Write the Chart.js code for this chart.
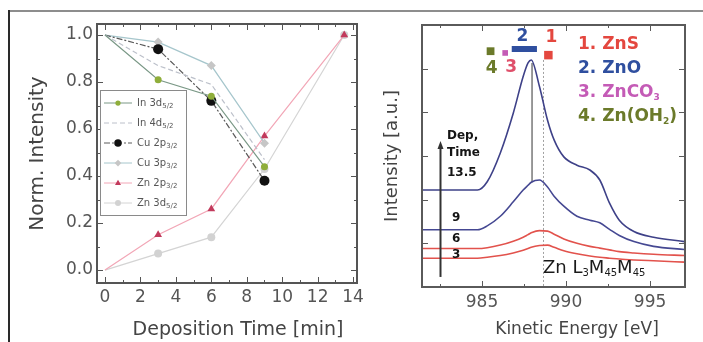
<!DOCTYPE html>
<html>
<head>
<meta charset="utf-8">
<title>Deposition series</title>
<script src="https://cdn.jsdelivr.net/npm/chart.js@4.4.1/dist/chart.umd.min.js"></script>
<style>
  html, body { margin: 0; padding: 0; background: #fff; }
  #page { position: relative; width: 703px; height: 342px; overflow: hidden; }
  .rule-top { position: absolute; left: 9px; top: 10px; width: 694px; height: 2px; background: #8d8d8d; }
  .rule-left { position: absolute; left: 8px; top: 10px; width: 2px; height: 332px; background: #2a2a2a; }
  canvas { position: absolute; top: 0; }
  #timeChart { left: 0; }
  #augerChart { left: 360px; }
</style>
</head>
<body>
<div id="page">
  <div class="rule-top"></div>
  <div class="rule-left"></div>
  <canvas id="timeChart" width="380" height="342"></canvas>
  <canvas id="augerChart" width="343" height="342"></canvas>
</div>
<script>
const FONT = '"DejaVu Sans", "Liberation Sans", sans-serif';
Chart.defaults.font.family = FONT;

// normalised core level intensities vs deposition time [min]
const depTimes = [0, 3, 6, 9, 13.5];
const coreLevels = ['In 3d_{5/2}', 'In 4d_{5/2}', 'Cu 2p_{3/2}', 'Cu 3p_{3/2}', 'Zn 2p_{3/2}', 'Zn 3d_{5/2}'];
const in3d = [1.0, 0.81, 0.74, 0.44];
const in4d = [1.0, 0.87, 0.79, 0.47];
const cu2p = [1.0, 0.94, 0.72, 0.38];
const cu3p = [1.0, 0.97, 0.87, 0.54];
const zn2p = [0.0, 0.15, 0.26, 0.57, 1.0];
const zn3d = [0.0, 0.07, 0.14, 0.43, 1.0];

// Zn LMM spectra, kinetic energy [eV] vs intensity [a.u.]
const kinEnergy = [981.43, 984.73, 985.31, 986.09, 986.86, 987.45, 987.74, 987.93, 988.42, 988.90,
                   989.29, 989.87, 990.65, 991.42, 992.01, 992.59, 993.17, 994.04, 995.21, 997.05];
const spectrumTimes = ['13.5', '9', '6', '3'];
const lmm135 = [2.22, 2.22, 2.41, 3.07, 3.98, 4.82, 5.13, 5.20, 4.59, 3.82,
                3.37, 2.98, 2.79, 2.68, 2.45, 1.92, 1.53, 1.27, 1.14, 1.04];
const lmm9 = [1.31, 1.31, 1.40, 1.62, 1.95, 2.22, 2.33, 2.40, 2.45, 2.29,
              2.08, 1.85, 1.62, 1.53, 1.47, 1.32, 1.18, 1.04, 0.93, 0.86];
const lmm6 = [0.88, 0.88, 0.90, 0.96, 1.05, 1.14, 1.20, 1.24, 1.29, 1.28,
              1.21, 1.10, 1.00, 0.93, 0.89, 0.85, 0.81, 0.78, 0.75, 0.72];
const lmm3 = [0.66, 0.66, 0.68, 0.72, 0.78, 0.84, 0.88, 0.91, 0.95, 0.96,
              0.91, 0.83, 0.76, 0.71, 0.68, 0.66, 0.64, 0.62, 0.60, 0.57];

// reference phases: 1. ZnS  2. ZnO  3. ZnCO3  4. Zn(OH2)
const phaseNames = ['ZnS', 'ZnO', 'ZnCO_{3}', 'Zn(OH_{2})'];
const phaseEnergy = [988.95, 987.52, 986.38, 985.51];
const phaseLevel = [5.31, 5.45, 5.36, 5.40];
const znoBand = [986.77, 988.27];
const znoLine = [987.98, 5.13, 2.40];   // energy, top, bottom
const znsLine = [988.66, 5.20, 0.0];

const pts = (xs, ys) => ys.map((v, i) => ({ x: xs[i], y: v }));

// text with _{...} parts drawn as subscripts
function drawRich(ctx, str, x, y, o) {
  const size = o.size, weight = o.weight || 'normal';
  const sub = Math.round(size * (o.subScale || 0.65));
  const parts = str.split(/(_\{[^}]*\})/).filter(Boolean)
    .map(p => p.startsWith('_{') ? { t: p.slice(2, -1), sub: true } : { t: p, sub: false });
  const fontOf = p => `${weight} ${p.sub ? sub : size}px ${FONT}`;
  let w = 0;
  parts.forEach(p => { ctx.font = fontOf(p); p.w = ctx.measureText(p.t).width; w += p.w; });
  let cx = o.align === 'center' ? x - w / 2 : o.align === 'right' ? x - w : x;
  ctx.fillStyle = o.color;
  ctx.textAlign = 'left';
  ctx.textBaseline = 'middle';
  parts.forEach(p => {
    ctx.font = fontOf(p);
    ctx.fillText(p.t, cx, p.sub ? y + size * 0.3 : y);
    cx += p.w;
  });
}

function drawMarker(ctx, style, x, y, r, fill) {
  if (!style) return;
  ctx.beginPath();
  if (style === 'circle') {
    ctx.arc(x, y, r, 0, Math.PI * 2);
  } else if (style === 'triangle') {
    ctx.moveTo(x, y - r); ctx.lineTo(x + r * 0.9, y + r * 0.6); ctx.lineTo(x - r * 0.9, y + r * 0.6);
    ctx.closePath();
  } else if (style === 'rectRot') {
    ctx.moveTo(x, y - r); ctx.lineTo(x + r, y); ctx.lineTo(x, y + r); ctx.lineTo(x - r, y);
    ctx.closePath();
  }
  ctx.fillStyle = fill;
  ctx.fill();
}

// closed frame with inward ticks on all four sides
const boxTicks = {
  id: 'boxTicks',
  afterDatasetsDraw(chart, args, o) {
    const { ctx, chartArea: a, scales: { x, y } } = chart;
    ctx.save();
    ctx.strokeStyle = o.color;
    ctx.lineWidth = 1;
    const marks = (scale, step, len) => {
      if (!step) return;
      const first = Math.ceil(scale.min / step - 1e-9);
      const last = Math.floor(scale.max / step + 1e-9);
      for (let k = first; k <= last; k++) {
        const p = Math.round(scale.getPixelForValue(k * step)) + 0.5;
        ctx.beginPath();
        if (scale.isHorizontal()) {
          ctx.moveTo(p, a.bottom); ctx.lineTo(p, a.bottom - len);
          ctx.moveTo(p, a.top); ctx.lineTo(p, a.top + len);
        } else {
          ctx.moveTo(a.left, p); ctx.lineTo(a.left + len, p);
          ctx.moveTo(a.right, p); ctx.lineTo(a.right - len, p);
        }
        ctx.stroke();
      }
    };
    marks(x, o.xMinor, 3); marks(x, o.xMajor, 6);
    marks(y, o.yMinor, 3); marks(y, o.yMajor, 6);
    ctx.lineWidth = o.width;
    ctx.strokeRect(a.left, a.top, a.width, a.height);
    ctx.restore();
  }
};

// ---- left panel: intensity vs deposition time ----
const coreSeries = [in3d, in4d, cu2p, cu3p, zn2p, zn3d];
const lineColors = ['#7a9886', '#bcc0ca', '#5a5a5a', '#a6c6cc', '#f2a6b6', '#d4d4d4'];
const lineDashes = [[], [5, 3], [6, 2, 2, 2], [], [], []];
const markerStyles = ['circle', false, 'circle', 'rectRot', 'triangle', 'circle'];
const markerColors = ['#8fae3a', '#bcc0ca', '#111111', '#c6c6c6', '#c23a5c', '#d2d2d2'];
const markerSizes = [3.5, 0, 5, 4.5, 4.5, 4];

const timeDecor = {
  id: 'timeDecor',
  afterDraw(chart) {
    const { ctx } = chart;
    ctx.save();
    const bx = 100, by = 90, bw = 86, bh = 125;
    ctx.fillStyle = '#fff';
    ctx.fillRect(bx, by, bw, bh);
    ctx.strokeStyle = '#8a8a8a';
    ctx.lineWidth = 1;
    ctx.strokeRect(bx + 0.5, by + 0.5, bw, bh);
    coreLevels.forEach((name, i) => {
      const ry = by + 13 + i * 20;
      ctx.strokeStyle = lineColors[i];
      ctx.setLineDash(lineDashes[i]);
      ctx.beginPath(); ctx.moveTo(bx + 4, ry); ctx.lineTo(bx + 32, ry); ctx.stroke();
      ctx.setLineDash([]);
      drawMarker(ctx, markerStyles[i], bx + 18, ry, markerSizes[i] * 0.75, markerColors[i]);
      drawRich(ctx, name, bx + 37, ry, { size: 10, color: '#555' });
    });
    drawRich(ctx, 'Deposition Time [min]', 238, 330, { size: 19, color: '#444', align: 'center' });
    ctx.restore();
  }
};

new Chart(document.getElementById('timeChart'), {
  type: 'line',
  data: {
    datasets: coreSeries.map((vals, i) => {
      const data = pts(depTimes, vals);
      return {
        label: coreLevels[i],
        data,
        borderColor: lineColors[i],
        borderWidth: 1.2,
        borderDash: lineDashes[i],
        pointStyle: markerStyles[i] || 'circle',
        pointRadius: data.map(p => (p.x === 0 ? 0 : markerSizes[i])),
        pointBackgroundColor: markerColors[i],
        pointBorderWidth: 0,
        tension: 0
      };
    })
  },
  options: {
    responsive: false,
    devicePixelRatio: 1,
    animation: false,
    layout: { padding: { left: 0, top: 24, right: 23, bottom: 0 } },
    plugins: {
      legend: { display: false },
      tooltip: { enabled: false },
      boxTicks: { color: '#555', width: 2, xMajor: 2, xMinor: 1, yMajor: 0.2, yMinor: 0.1 }
    },
    scales: {
      x: {
        type: 'linear', min: -0.45, max: 14.22,
        grid: { display: false, drawTicks: false }, border: { display: false },
        ticks: { stepSize: 2, includeBounds: false, padding: 4, color: '#555', font: { size: 17 } },
        afterFit: s => { s.height = 59; }
      },
      y: {
        min: -0.055, max: 1.047,
        grid: { display: false, drawTicks: false }, border: { display: false },
        ticks: { stepSize: 0.2, includeBounds: false, padding: 4, color: '#555', font: { size: 17 },
                 callback: v => v.toFixed(1) },
        title: { display: true, text: 'Norm. Intensity', color: '#444', font: { size: 20 },
                 padding: { top: 26, bottom: 0 } },
        afterFit: s => { s.width = 97; }
      }
    }
  },
  plugins: [boxTicks, timeDecor]
});

// ---- right panel: Zn LMM spectra ----
const spectra = [lmm135, lmm9, lmm6, lmm3];
const spectrumColors = ['#3e4188', '#454892', '#e2524c', '#e2524c'];
const phaseColors = ['#e4473f', '#2f4f9f', '#c45bb6', '#6b7a2a'];
const phaseTagColors = ['#e4473f', '#2f4f9f', '#df4f6a', '#6b7a2a'];
const phaseTagOffsets = [[3, -18], [-2, -12], [6, 15], [1, 17]];
const spectrumTagOffsets = [-17, -12, -10, -3];

const augerDecor = {
  id: 'augerDecor',
  afterDraw(chart) {
    const { ctx, scales: { x, y } } = chart;
    ctx.save();
    // phase numbers at the reference markers
    phaseEnergy.forEach((e, i) => {
      const px = x.getPixelForValue(e) + phaseTagOffsets[i][0];
      const py = y.getPixelForValue(phaseLevel[i]) + phaseTagOffsets[i][1];
      drawRich(ctx, String(i + 1), px, py, { size: 17, weight: 'bold', color: phaseTagColors[i], align: 'center' });
    });
    // phase list
    phaseNames.forEach((name, i) => {
      drawRich(ctx, `${i + 1}. ${name}`, 218, 45 + i * 24, { size: 17, weight: 'bold', color: phaseColors[i], subScale: 0.55 });
    });
    // deposition time arrow
    const ax = Math.round(x.getPixelForValue(982.5)) + 0.5;
    const yTop = y.getPixelForValue(3.3), yBot = y.getPixelForValue(0.23);
    ctx.strokeStyle = '#333';
    ctx.lineWidth = 2;
    ctx.beginPath(); ctx.moveTo(ax, yBot); ctx.lineTo(ax, yTop + 5); ctx.stroke();
    ctx.fillStyle = '#333';
    ctx.beginPath(); ctx.moveTo(ax, yTop - 2); ctx.lineTo(ax + 3, yTop + 6); ctx.lineTo(ax - 3, yTop + 6);
    ctx.closePath(); ctx.fill();
    drawRich(ctx, 'Dep,', 87, 136, { size: 12, weight: 'bold', color: '#151515' });
    drawRich(ctx, 'Time', 87, 153, { size: 12, weight: 'bold', color: '#151515' });
    spectra.forEach((s, i) => {
      const py = y.getPixelForValue(s[0]) + spectrumTagOffsets[i];
      drawRich(ctx, spectrumTimes[i], i === 0 ? 87 : 92, py, { size: 12, weight: 'bold', color: '#151515' });
    });
    drawRich(ctx, 'Zn L_{3}M_{45}M_{45}', 183, 268, { size: 18, color: '#1a1a1a', subScale: 0.55 });
    drawRich(ctx, 'Kinetic Energy [eV]', 217, 330, { size: 17, color: '#444', align: 'center' });
    ctx.restore();
  }
};

const augerSets = spectra.map((vals, i) => ({
  data: pts(kinEnergy, vals),
  borderColor: spectrumColors[i],
  borderWidth: 1.6,
  pointRadius: 0,
  cubicInterpolationMode: 'monotone'
}));
augerSets.push(
  { data: [{ x: znoLine[0], y: znoLine[1] }, { x: znoLine[0], y: znoLine[2] }],
    borderColor: '#8a8a8a', borderWidth: 1, pointRadius: 0 },
  { data: [{ x: znsLine[0], y: znsLine[1] }, { x: znsLine[0], y: znsLine[2] }],
    borderColor: '#a0a0a0', borderWidth: 1, borderDash: [2, 2], pointRadius: 0 },
  { data: [{ x: znoBand[0], y: phaseLevel[1] }, { x: znoBand[1], y: phaseLevel[1] }],
    borderColor: phaseColors[1], borderWidth: 6, borderCapStyle: 'butt', pointRadius: 0 },
  { data: [0, 2, 3].map(i => ({ x: phaseEnergy[i], y: phaseLevel[i] })),
    showLine: false, pointStyle: 'rect', pointRadius: [6, 4, 5.5],
    pointBackgroundColor: [phaseColors[0], phaseColors[2], phaseColors[3]], pointBorderWidth: 0 }
);

new Chart(document.getElementById('augerChart'), {
  type: 'line',
  data: { datasets: augerSets },
  options: {
    responsive: false,
    devicePixelRatio: 1,
    animation: false,
    layout: { padding: { left: 0, top: 25, right: 18, bottom: 0 } },
    plugins: {
      legend: { display: false },
      tooltip: { enabled: false },
      boxTicks: { color: '#5a5a5a', width: 2, xMajor: 5, xMinor: 2.5, yMajor: 1, yMinor: 0 }
    },
    scales: {
      x: {
        type: 'linear', min: 981.43, max: 997.08,
        grid: { display: false, drawTicks: false }, border: { display: false },
        ticks: { stepSize: 5, includeBounds: false, padding: 5, color: '#555', font: { size: 17 } },
        afterFit: s => { s.height = 55; }
      },
      y: {
        min: 0, max: 6,
        grid: { display: false, drawTicks: false }, border: { display: false },
        ticks: { display: false, stepSize: 1 },
        title: { display: true, text: 'Intensity [a.u.]', color: '#444', font: { size: 18 },
                 padding: { top: 22, bottom: 0 } },
        afterFit: s => { s.width = 62; }
      }
    }
  },
  plugins: [boxTicks, augerDecor]
});
</script>
</body>
</html>
